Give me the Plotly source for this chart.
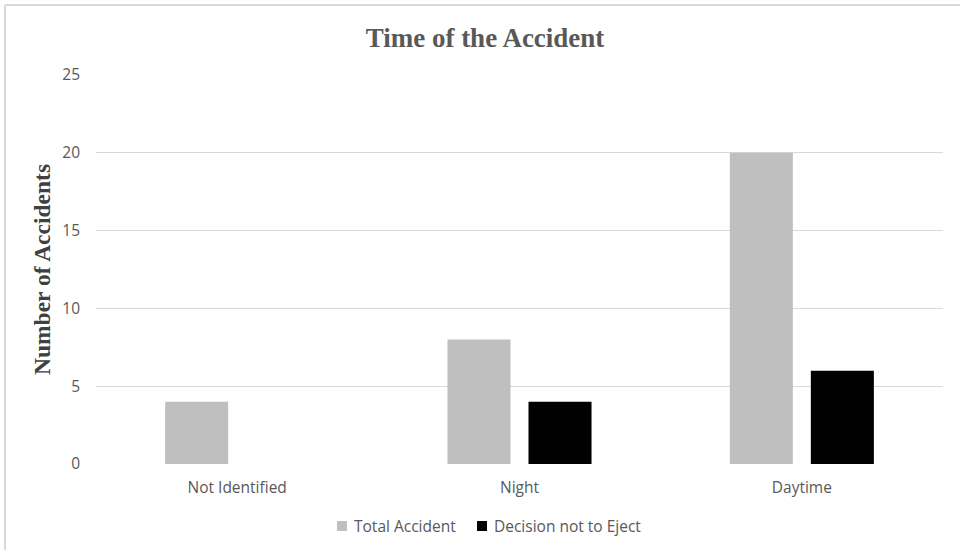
import plotly.graph_objects as go

# Accidents grouped by time of day
categories = ["Not Identified", "Night", "Daytime"]
total_accident = [4, 8, 20]
decision_not_to_eject = [0, 4, 6]
y_ticks = [0, 5, 10, 15, 20, 25]
series_names = ["Total Accident", "Decision not to Eject"]
series_colors = ["#bfbfbf", "#000000"]

W, H = 960, 550
L, R, T, B = 96, 17, 75, 86
pw, ph = W - L - R, H - T - B


def px_x(x):
    return (x - L) / pw


def px_y(y):
    return (H - B - y) / ph


fig = go.Figure()
fig.add_trace(go.Bar(
    x=categories, y=total_accident, name=series_names[0],
    marker=dict(color=series_colors[0], line=dict(width=0)),
))
fig.add_trace(go.Bar(
    x=categories, y=[v if v else None for v in decision_not_to_eject],
    name=series_names[1],
    marker=dict(color=series_colors[1], line=dict(width=0)),
))

sans = "'Open Sans', Lato, sans-serif"
serif = "'Liberation Serif', 'DejaVu Serif', serif"
tick_font = dict(family=sans, size=15.5, color="#595959")

# Legend drawn as swatches plus text beneath the plot
legend_items = [(337, 352), (477, 492)]
shapes = []
annotations = []
for (sx, tx), name, color in zip(legend_items, series_names, series_colors):
    shapes.append(dict(type="rect", xref="paper", yref="paper",
                       x0=px_x(sx), x1=px_x(sx + 10), y0=px_y(521), y1=px_y(531),
                       fillcolor=color, line=dict(width=0)))
    annotations.append(dict(text=name, xref="paper", yref="paper",
                            x=px_x(tx), y=px_y(526), xanchor="left", yanchor="middle",
                            showarrow=False, font=dict(family=sans, size=15.5, color="#595959")))

# Light frame along the top and left edges
shapes += [
    dict(type="line", xref="paper", yref="paper",
         x0=px_x(5), x1=px_x(960), y0=px_y(5), y1=px_y(5),
         line=dict(color="#d9d9d9", width=2)),
    dict(type="line", xref="paper", yref="paper",
         x0=px_x(5), x1=px_x(5), y0=px_y(5), y1=px_y(550),
         line=dict(color="#d9d9d9", width=2)),
]

fig.update_layout(
    width=W, height=H,
    margin=dict(l=L, r=R, t=T, b=B),
    paper_bgcolor="white", plot_bgcolor="white",
    barmode="group", bargap=0.426, bargroupgap=0.222,
    showlegend=False,
    title=dict(
        text="<b>Time of the Accident</b>",
        x=px_x(485), xref="paper", xanchor="center",
        y=1 - 38 / H, yanchor="middle",
        font=dict(family=serif, size=27, color="#595959"),
    ),
    xaxis=dict(
        showgrid=False, zeroline=False, showline=False, ticks="",
        tickfont=tick_font, automargin=False, ticklabelstandoff=12,
    ),
    yaxis=dict(
        range=[0, 25], tickvals=y_ticks, showgrid=True, gridcolor="#d9d9d9", gridwidth=1,
        zeroline=False, showline=False, ticks="", ticklabelstandoff=15,
        tickfont=tick_font, automargin=False,
        title=dict(
            text="<b>Number of Accidents</b>", standoff=5,
            font=dict(family=serif, size=23.5, color="#404040"),
        ),
    ),
    shapes=shapes,
    annotations=annotations,
)

fig.write_html("out.html")
